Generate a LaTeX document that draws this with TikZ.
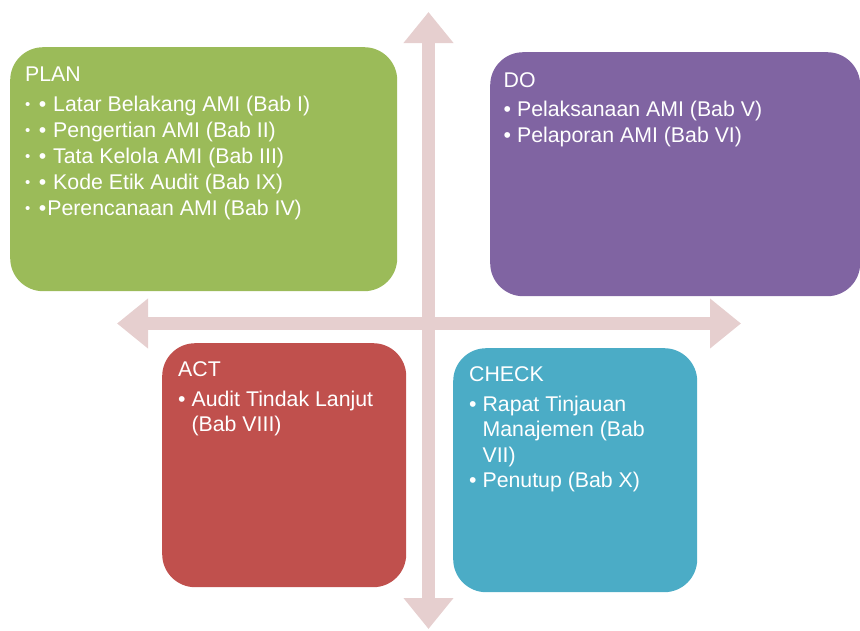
\documentclass[tikz,border=0pt]{standalone}
\usepackage{fontspec}
\setmainfont{Liberation Sans}
\usetikzlibrary{arrows.meta}
\definecolor{plangreen}{RGB}{155,187,89}
\definecolor{dopurple}{RGB}{128,100,162}
\definecolor{actred}{RGB}{192,80,77}
\definecolor{checkblue}{RGB}{75,172,198}
\definecolor{axispink}{RGB}{230,207,207}
\newcommand{\smallbullet}{\raisebox{1.5pt}{\fontsize{15}{18}\selectfont\textbullet}\hspace{2.5pt}}

\begin{document}
\begin{tikzpicture}[x=1pt, y=-1pt,
    quad/.style={draw=none, rounded corners=33pt, anchor=north west, inner sep=0pt},
    quadtext/.style={anchor=north west, inner sep=0pt, align=left, text=white,
        font=\fontsize{21.3}{25.5}\selectfont},
    axis/.style={draw=axispink, line width=13pt,
        {Triangle[width=48pt,length=31pt]}-{Triangle[width=48pt,length=31pt]}}]

    % Page of 860 x 630, y grows downwards
    \useasboundingbox (0,0) rectangle (860,630);

    % Cross of double arrows behind the four boxes
    \coordinate (top) at (428.5,12);
    \coordinate (bottom) at (428.5,629);
    \coordinate (left) at (117,323.5);
    \coordinate (right) at (741,323.5);
    \draw[axis] (top) -- (bottom);
    \draw[axis] (left) -- (right);

    % PLAN
    \node[quad, fill=plangreen, minimum width=387pt, minimum height=244pt] (plan) at (10,47) {};
    \node[quadtext, font=\fontsize{21.3}{26}\selectfont] (plantext) at (25,66.5) {PLAN\\[4pt]
        \smallbullet~\textbullet\hspace{1pt}~Latar Belakang AMI (Bab I)\\
        \smallbullet~\textbullet\hspace{1pt}~Pengertian AMI (Bab II)\\
        \smallbullet~\textbullet\hspace{1pt}~Tata Kelola AMI (Bab III)\\
        \smallbullet~\textbullet\hspace{1pt}~Kode Etik Audit (Bab IX)\\
        \smallbullet~\textbullet\hspace{1pt}Perencanaan AMI (Bab IV)};

    % DO
    \node[quad, fill=dopurple, minimum width=370pt, minimum height=244pt] (do) at (490,52) {};
    \node[quadtext] (dotext) at (503.5,72) {DO\\[4pt]
        \textbullet~Pelaksanaan AMI (Bab V)\\
        \textbullet~Pelaporan AMI (Bab VI)};

    % ACT
    \node[quad, fill=actred, minimum width=244pt, minimum height=244pt] (act) at (162,343) {};
    \node[quadtext] (acttext) at (178,361.5) {ACT\\[4pt]
        \textbullet~Audit Tindak Lanjut\\
        \hphantom{\textbullet~}(Bab VIII)};

    % CHECK
    \node[quad, fill=checkblue, minimum width=244pt, minimum height=244pt] (check) at (453,348) {};
    \node[quadtext] (checktext) at (469,366.5) {CHECK\\[4pt]
        \textbullet~Rapat Tinjauan\\
        \hphantom{\textbullet~}Manajemen (Bab\\
        \hphantom{\textbullet~}VII)\\
        \textbullet~Penutup (Bab X)};
\end{tikzpicture}
\end{document}
